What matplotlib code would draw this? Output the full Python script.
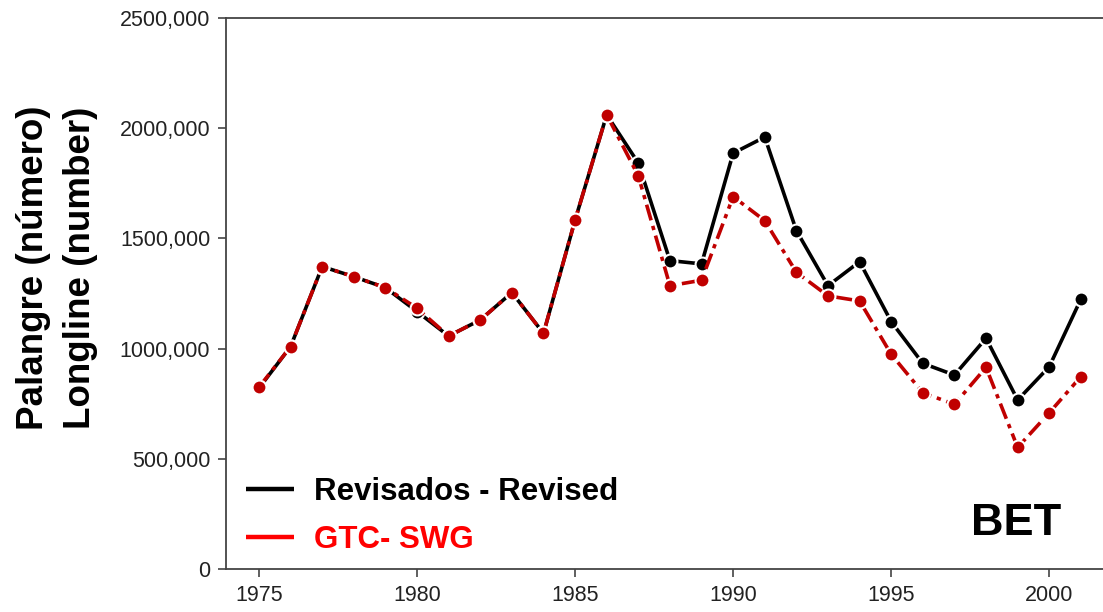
import matplotlib
matplotlib.use("Agg")
import matplotlib.pyplot as plt
from matplotlib.ticker import FuncFormatter

plt.rcParams['font.family'] = ['Liberation Sans', 'DejaVu Sans']

# data
years = list(range(1975, 2002))
revised = [821000, 1009000, 1372000, 1326000, 1276000, 1168000, 1057000, 1130000,
           1254000, 1069000, 1583000, 2060000, 1841000, 1399000, 1384000, 1886000,
           1959000, 1535000, 1285000, 1394000, 1122000, 933000, 880000, 1047000,
           767000, 918000, 1224000]
swg = [825000, 1009000, 1372000, 1326000, 1276000, 1183000, 1057000, 1130000,
       1254000, 1069000, 1583000, 2060000, 1783000, 1285000, 1310000, 1689000,
       1580000, 1346000, 1239000, 1216000, 974000, 800000, 747000, 915000,
       552000, 709000, 873000]
yticks = [0, 500000, 1000000, 1500000, 2000000, 2500000]
xticks = [1975, 1980, 1985, 1990, 1995, 2000]


def fmt(v, pos):
    if v == 0:
        return "0"
    return "%d,000" % (v // 1000)


fig = plt.figure(figsize=(11.03, 6.12), dpi=100)
ax = fig.add_axes([0.205, 0.070, 0.795, 0.901])

ax.plot(years, revised, color='black', lw=2.6, marker='o', ms=10,
        mfc='black', mec='white', mew=1.5, zorder=3)
ax.plot(years, swg, color='#c00000', lw=2.6, ls=(0, (4.5, 1.6, 1.2, 1.6)),
        marker='o', ms=10, mfc='#c00000', mec='white', mew=1.5, zorder=4)

ax.set_xlim(1973.96, 2001.7)
ax.set_ylim(0, 2500000)
ax.set_xticks(xticks)
ax.set_yticks(yticks)
ax.yaxis.set_major_formatter(FuncFormatter(fmt))

for s in ['top', 'left', 'bottom']:
    ax.spines[s].set_color('#444444')
    ax.spines[s].set_linewidth(1.3)
ax.spines['right'].set_visible(False)
ax.tick_params(axis='both', direction='out', length=6, width=1.2,
               color='#444444', labelsize=15.5, labelcolor='#222222', pad=5.5)

fig.text(0.052, 0.563, "Palangre (número)\nLongline (number)", rotation=90,
         fontsize=26.5, fontweight='bold', ha='center', va='center',
         linespacing=1.45)

# legend drawn by hand
ax.plot([1974.6, 1976.1], [363000, 363000], color='black', lw=3.2,
        solid_capstyle='butt', zorder=5)
ax.plot([1974.6, 1976.1], [145000, 145000], color='red', lw=3.2,
        solid_capstyle='butt', zorder=5)
ax.text(1976.75, 350000, "Revisados - Revised", fontsize=22.5, fontweight='bold',
        color='black', va='center', ha='left')
ax.text(1976.75, 132000, "GTC- SWG", fontsize=22.5, fontweight='bold',
        color='red', va='center', ha='left')

ax.text(1998.95, 205000, "BET", fontsize=32.5, fontweight='bold',
        color='black', va='center', ha='center')

fig.savefig("out.png", dpi=100)
